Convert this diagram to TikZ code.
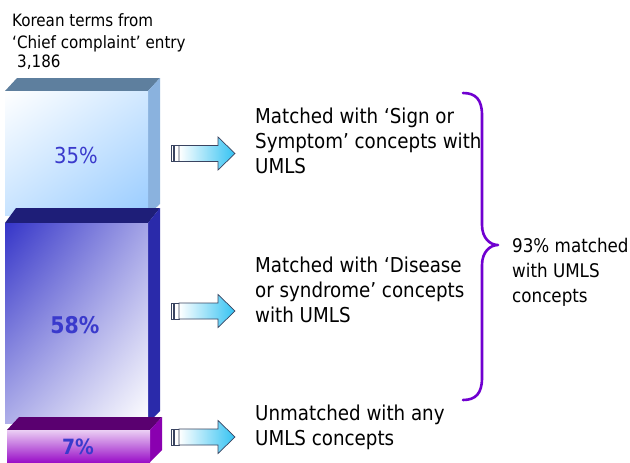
\documentclass[tikz,border=0pt]{standalone}
\usepackage{fontspec}
\setmainfont[FakeStretch=0.99]{DejaVu Sans Condensed}
\usetikzlibrary{shadings}
\definecolor{bAtop}{HTML}{5E7F9E}
\definecolor{bAside}{HTML}{8AB2DE}
\definecolor{bAfront}{HTML}{99CCFF}
\definecolor{bBtop}{HTML}{1E1E78}
\definecolor{bBside}{HTML}{2A2AAA}
\definecolor{bBfront}{HTML}{3535C8}
\definecolor{bCtop}{HTML}{5A0070}
\definecolor{bCside}{HTML}{8A00B0}
\definecolor{bCfront}{HTML}{9A10C8}
\definecolor{pct}{HTML}{3A3ACC}
\definecolor{arrcyan}{HTML}{33C2F2}
\definecolor{arrline}{HTML}{3A4460}
\definecolor{bracecol}{HTML}{7000D0}
\tikzset{
  lbl/.style={anchor=base west, inner sep=0pt, align=left, font=\fontsize{20.5}{24.8}\selectfont},
  sumlbl/.style={anchor=base west, inner sep=0pt, align=left, font=\fontsize{18.8}{24.8}\selectfont},
  toplbl/.style={anchor=base west, inner sep=0pt, align=left, font=\fontsize{17}{21}\selectfont},
  pctlbl/.style={inner sep=0pt, text=pct},
  bracestyle/.style={draw=bracecol, line width=2.6pt, line cap=round, line join=round},
  bigarrow/.pic={
    \draw[arrline, line width=0.7pt, fill=white] (0,-8) rectangle (2.5,8);
    \draw[arrline, line width=0.7pt, fill=white] (3.5,-8) rectangle (8,8);
    \shade[left color=white, right color=arrcyan, draw=arrline, line width=0.7pt]
      (8,-8) -- (47,-8) -- (47,-16.5) -- (64,0) -- (47,16.5) -- (47,8) -- (8,8) -- cycle;
  }
}
\begin{document}
\begin{tikzpicture}[x=1pt,y=-1pt]
\useasboundingbox[fill=white] (0,0) rectangle (630,463);

% Box 1 (35%)
\fill[bAtop] (5,91) -- (17,78) -- (160,78) -- (148,91) -- cycle;
\fill[bAside] (148,91) -- (160,78) -- (160,204) -- (148,215) -- cycle;
\shade[upper left=white, upper right=bAfront!45!white, lower left=bAfront!55!white, lower right=bAfront]
  (5,91) rectangle (148,215);
\node[pctlbl, font=\fontsize{22}{24}\selectfont] (p35) at (76,155) {35\%};

% Box 2 (58%)
\fill[bBtop] (5,223) -- (16,208) -- (160,208) -- (148,223) -- cycle;
\fill[bBside] (148,223) -- (160,208) -- (160,411) -- (148,423) -- cycle;
\shade[upper left=bBfront, upper right=bBfront!45!white, lower left=bBfront!40!white, lower right=white]
  (5,223) rectangle (148,423);
\node[pctlbl, font=\bfseries\fontsize{23}{25}\selectfont] (p58) at (75,325) {58\%};

% Box 3 (7%)
\fill[bCtop] (7,430) -- (19,417) -- (162,417) -- (150,430) -- cycle;
\fill[bCside] (150,430) -- (162,417) -- (162,450) -- (150,462) -- cycle;
\shade[top color=bCfront!20!white, middle color=white, bottom color=bCfront]
  (7,430) rectangle (150,462);
\node[pctlbl, font=\bfseries\fontsize{21}{23}\selectfont] (p7) at (78,447) {7\%};

% header
\node[toplbl] (hdr) at (12,48) {Korean terms from\\‘Chief complaint’ entry};
\node[toplbl] (cnt) at (17,67) {3,186};

% arrows
\pic at (171,153.5) {bigarrow};
\pic at (171,311) {bigarrow};
\pic at (171,437) {bigarrow};

% texts
\node[lbl] (t1) at (255,173) {Matched with ‘Sign or\\Symptom’ concepts with\\UMLS};
\node[lbl] (t2) at (255,322) {Matched with ‘Disease\\or syndrome’ concepts\\with UMLS};
\node[lbl] (t3) at (255,445) {Unmatched with any\\UMLS concepts};
\node[sumlbl] (t4) at (512,302) {93\% matched\\with UMLS\\concepts};

% brace
\draw[bracestyle] (463,93) .. controls (476,93) and (482,100) .. (482,115)
  -- (482,225) .. controls (482,238) and (490,245) .. (498,245)
  .. controls (490,245) and (482,252) .. (482,265)
  -- (482,378) .. controls (482,393) and (476,400) .. (463,400);
\end{tikzpicture}
\end{document}
